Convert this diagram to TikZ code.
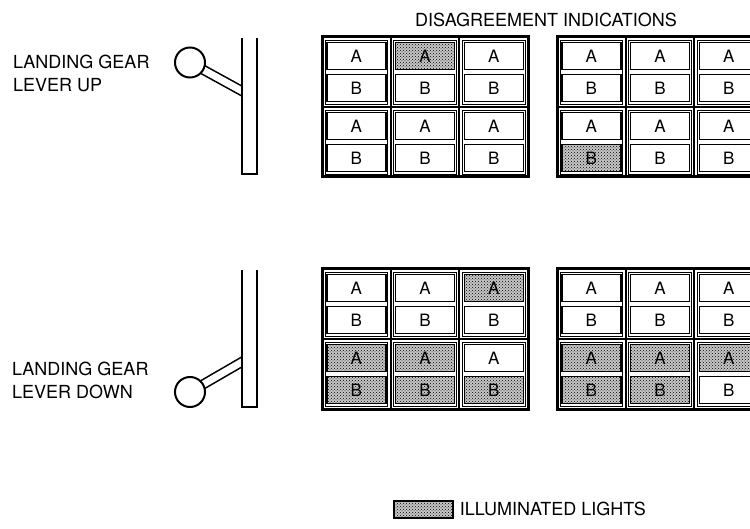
\documentclass[tikz,border=0pt]{standalone}
\usepackage{fontspec}
\setmainfont{TeX Gyre Heros}
\usetikzlibrary{positioning}
\usetikzlibrary{patterns}

\tikzset{
  frame/.style={line width=3pt},
  divider/.style={line width=2pt},
  cell/.style={line width=0.7pt},
  lamp/.style={draw, line width=1.6pt, fill=white, minimum width=59pt,
    minimum height=27pt, inner sep=0pt, font=\fontsize{17}{18}\selectfont},
  lit/.style={preaction={fill=black!22}, pattern=crosshatch dots,
    pattern color=black},
  lampof/.code={\pgfkeysifdefined{/tikz/on #1/.@cmd}{\tikzset{lit}}{}},
  caption/.style={font=\fontsize{18}{23}\selectfont, align=left, inner sep=0pt},
  rod/.style={double, double distance=7pt, line width=1.6pt},
  bar/.style={fill=white, minimum width=15pt, minimum height=136pt,
    inner sep=0pt, outer sep=0pt},
  barline/.style={line width=1.6pt},
  knob/.style={circle, draw, fill=white, line width=2pt, minimum size=30pt,
    inner sep=0pt},
  % Illuminated lights
  on UL-2-1-A/.style={},
  on UR-1-2-B/.style={},
  on LL-3-1-A/.style={},
  on LL-1-2-A/.style={}, on LL-1-2-B/.style={},
  on LL-2-2-A/.style={}, on LL-2-2-B/.style={},
  on LL-3-2-B/.style={},
  on LR-1-2-A/.style={}, on LR-1-2-B/.style={},
  on LR-2-2-A/.style={}, on LR-2-2-B/.style={},
  on LR-3-2-A/.style={},
}

% panel of lights: name, left, top
\newcommand{\lamppanel}[3]{%
  \foreach \col in {1,2,3} {
    \foreach \hf in {1,2} {
      \draw[cell] (#2+68.7*\col-65.7, #3+70*\hf-67) rectangle ++(62.7,64);
      \foreach \l/\dy in {A/-51, B/-19}
        \node[lamp, lampof=#1-\col-\hf-\l] (#1-\col-\hf-\l)
          at (#2+68.7*\col-34.3, #3+70*\hf+\dy) {\l};
    }
  }
  \draw[divider] (#2+68.7,#3) -- ++(0,140);
  \draw[divider] (#2+137.3,#3) -- ++(0,140);
  \draw[divider] (#2,#3+70) -- ++(206,0);
  \draw[frame] (#2,#3) rectangle ++(206,140);
}

\begin{document}
\begin{tikzpicture}[x=1pt, y=-1pt]
\useasboundingbox (0,0) rectangle (750,529);
\clip (0,0) rectangle (750,529);

% Title
\node[caption, anchor=north] (title) at (546,13) {DISAGREEMENT INDICATIONS};

% Lever up
\node[caption, anchor=north west] (uplabel) at (13,55) {LANDING GEAR\\LEVER UP};
\coordinate (hubup) at (190,62.5);
\coordinate (rodup) at (244,92.2);
\draw[rod] (hubup) -- (rodup);
\node[bar, anchor=north west] (barup) at (242,38) {};
\draw[barline] (barup.north west) -- (barup.south west) -- (barup.south east)
  -- (barup.north east);
\node[knob] (knobup) at (hubup) {};

% Lever down
\node[caption, anchor=north west] (downlabel) at (12,362) {LANDING GEAR\\LEVER DOWN};
\coordinate (hubdown) at (190,392);
\coordinate (roddown) at (244,360.7);
\draw[rod] (hubdown) -- (roddown);
\node[bar, anchor=north west, minimum height=137pt] (bardown) at (242,270) {};
\draw[barline] (bardown.north west) -- (bardown.south west)
  -- (bardown.south east) -- (bardown.north east);
\node[knob] (knobdown) at (hubdown) {};

% Panels
\lamppanel{UL}{322}{37}
\lamppanel{UR}{557}{37}
\lamppanel{LL}{322}{269}
\lamppanel{LR}{557}{269}

% Legend
\node[lit, draw, line width=1.6pt, minimum width=59pt, minimum height=17pt,
  anchor=north west] (litkey) at (393,500) {};
\node[caption, right=6pt of litkey] (litnote) {ILLUMINATED LIGHTS};
\end{tikzpicture}
\end{document}
